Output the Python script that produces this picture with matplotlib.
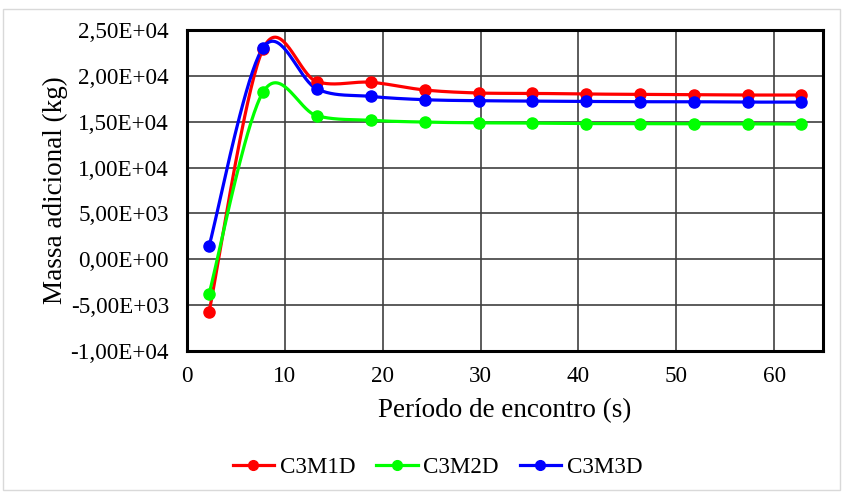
import numpy as np
import matplotlib
matplotlib.use("Agg")
import matplotlib.pyplot as plt
from matplotlib.ticker import FuncFormatter, MultipleLocator
from matplotlib.patches import Rectangle

periods = [2.25, 7.76, 13.27, 18.78, 24.29, 29.8, 35.3, 40.8, 46.3, 51.8, 57.3, 62.8]
c3m1d = [-5800, 22900, 19370, 19300, 18460, 18130, 18090, 18020, 17980, 17940, 17910, 17910]
c3m2d = [-3800, 18200, 15650, 15150, 14960, 14880, 14850, 14800, 14800, 14770, 14770, 14740]
c3m3d = [1400, 23050, 18570, 17760, 17400, 17290, 17250, 17210, 17180, 17180, 17140, 17140]
series_names = ["C3M1D", "C3M2D", "C3M3D"]
series_colors = ["#ff0000", "#00ff00", "#0000ff"]

plt.rcParams['font.family'] = ['Liberation Serif', 'DejaVu Serif']


def smooth(x, y, n=40):
    x = np.asarray(x, float)
    y = np.asarray(y, float)
    px, py = [x[0]], [y[0]]
    m = len(x)
    for i in range(m - 1):
        x0, y0 = (x[i - 1], y[i - 1]) if i > 0 else (x[i], y[i])
        x3, y3 = (x[i + 2], y[i + 2]) if i + 2 < m else (x[i + 1], y[i + 1])
        c1x = x[i] + (x[i + 1] - x0) / 6
        c1y = y[i] + (y[i + 1] - y0) / 6
        c2x = x[i + 1] - (x3 - x[i]) / 6
        c2y = y[i + 1] - (y3 - y[i]) / 6
        t = np.linspace(0, 1, n)[1:]
        bx = (1 - t) ** 3 * x[i] + 3 * (1 - t) ** 2 * t * c1x + 3 * (1 - t) * t ** 2 * c2x + t ** 3 * x[i + 1]
        by = (1 - t) ** 3 * y[i] + 3 * (1 - t) ** 2 * t * c1y + 3 * (1 - t) * t ** 2 * c2y + t ** 3 * y[i + 1]
        px.extend(bx)
        py.extend(by)
    return np.array(px), np.array(py)


fig = plt.figure(figsize=(8.43, 4.92), dpi=100)
fig.patches.append(Rectangle((0.003, 0.004), 0.994, 0.978, transform=fig.transFigure,
                             fill=False, edgecolor="#d9d9d9", linewidth=1.0))
ax = fig.add_axes([187 / 843, 1 - 351 / 492, (823 - 187) / 843, (351 - 30) / 492])

handles = []
for k, (name, vals, col) in enumerate(zip(series_names, [c3m1d, c3m2d, c3m3d], series_colors)):
    sx, sy = smooth(periods, vals)
    ax.plot(sx, sy, color=col, lw=2.3, zorder=3 + k * 0.1)
    ax.plot(periods, vals, 'o', color=col, ms=8, zorder=4 + k * 0.1)
    h, = ax.plot([], [], '-o', color=col, lw=2.3, ms=7, label=name)
    handles.append(h)

ax.set_xlim(0, 65)
ax.set_ylim(-10000, 25000)
ax.xaxis.set_major_locator(MultipleLocator(10))
ax.yaxis.set_major_locator(MultipleLocator(5000))


def fmt(v, pos):
    s = "%.2E" % v
    return s.replace(".", ",")


ax.yaxis.set_major_formatter(FuncFormatter(fmt))
ax.grid(True, color="#404040", lw=1.2)
ax.set_axisbelow(True)
for sp in ax.spines.values():
    sp.set_linewidth(2.2)
    sp.set_color("black")
ax.tick_params(length=0, labelsize=16.7)
ax.tick_params(axis='y', pad=13)
ax.tick_params(axis='x', pad=11)
ax.set_xlabel("Período de encontro (s)", fontsize=19.5, labelpad=8)
ax.set_ylabel("Massa adicional (kg)", fontsize=19.5, labelpad=2)

fig.legend(handles=handles, loc="center", bbox_to_anchor=(0.519, 0.05), ncol=3,
           frameon=False, fontsize=16.6, handlelength=1.8, columnspacing=0.9, handletextpad=0.25)

fig.savefig("out.png", dpi=100)
